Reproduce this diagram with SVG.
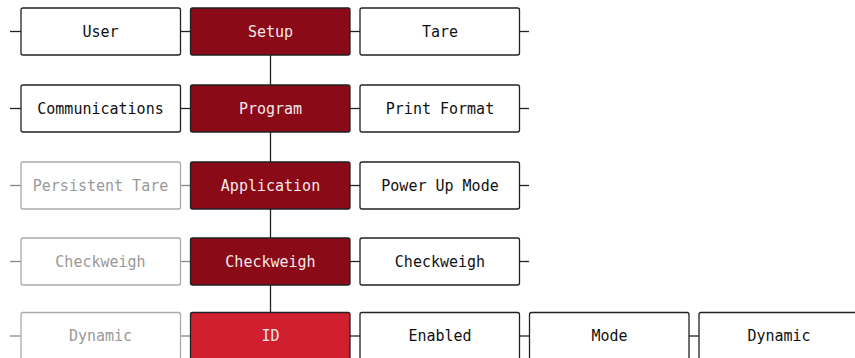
<svg xmlns="http://www.w3.org/2000/svg" width="855" height="358" viewBox="0 0 855 358">
<style>
rect{stroke-width:1.3;}
.n rect{fill:#fff;stroke:#222;}
.g rect{fill:#fff;stroke:#aaa;}
.s rect{fill:#8a0a17;stroke:#222;}
.a rect{fill:#d01f2e;stroke:#222;}
text{font-family:"DejaVu Sans Mono",monospace;font-size:15px;text-anchor:middle;dominant-baseline:central;}
.n text{fill:#111;}
.g text{fill:#999;}
.s text,.a text{fill:#f4e8e8;}
#connectors line{stroke:#222;stroke-width:1.3;}
#connectors line.gl{stroke:#888;}
</style>
<rect width="855" height="358" fill="#fff"/>
<g id="connectors">
<line x1="10" y1="31.5" x2="21" y2="31.5"/>
<line x1="180" y1="31.5" x2="191" y2="31.5"/>
<line x1="350" y1="31.5" x2="360" y2="31.5"/>
<line x1="519" y1="31.5" x2="529" y2="31.5"/>
<line x1="10" y1="108.5" x2="21" y2="108.5"/>
<line x1="180" y1="108.5" x2="191" y2="108.5"/>
<line x1="350" y1="108.5" x2="360" y2="108.5"/>
<line x1="519" y1="108.5" x2="529" y2="108.5"/>
<line class="gl" x1="10" y1="185.5" x2="21" y2="185.5"/>
<line class="gl" x1="180" y1="185.5" x2="191" y2="185.5"/>
<line x1="350" y1="185.5" x2="360" y2="185.5"/>
<line x1="519" y1="185.5" x2="529" y2="185.5"/>
<line class="gl" x1="10" y1="261.5" x2="21" y2="261.5"/>
<line class="gl" x1="180" y1="261.5" x2="191" y2="261.5"/>
<line x1="350" y1="261.5" x2="360" y2="261.5"/>
<line x1="519" y1="261.5" x2="529" y2="261.5"/>
<line class="gl" x1="10" y1="336" x2="21" y2="336"/>
<line class="gl" x1="180" y1="336" x2="191" y2="336"/>
<line x1="350" y1="336" x2="360" y2="336"/>
<line x1="519" y1="336" x2="529" y2="336"/>
<line x1="689" y1="336" x2="699" y2="336"/>
<line x1="270.5" y1="55" x2="270.5" y2="85"/>
<line x1="270.5" y1="132" x2="270.5" y2="162"/>
<line x1="270.5" y1="209" x2="270.5" y2="238"/>
<line x1="270.5" y1="285" x2="270.5" y2="312"/>
</g>
<g id="user" class="n"><rect x="21" y="8" width="159.5" height="47" rx="2"/><text x="100.5" y="31.5">User</text></g>
<g id="setup" class="s"><rect x="190.5" y="8" width="159.5" height="47" rx="2"/><text x="270.5" y="31.5">Setup</text></g>
<g id="tare" class="n"><rect x="360" y="8" width="159.5" height="47" rx="2"/><text x="440" y="31.5">Tare</text></g>
<g id="communications" class="n"><rect x="21" y="85" width="159.5" height="47" rx="2"/><text x="100.5" y="108.5">Communications</text></g>
<g id="program" class="s"><rect x="190.5" y="85" width="159.5" height="47" rx="2"/><text x="270.5" y="108.5">Program</text></g>
<g id="print-format" class="n"><rect x="360" y="85" width="159.5" height="47" rx="2"/><text x="440" y="108.5">Print Format</text></g>
<g id="persistent-tare" class="g"><rect x="21" y="162" width="159.5" height="47" rx="2"/><text x="100.5" y="185.5">Persistent Tare</text></g>
<g id="application" class="s"><rect x="190.5" y="162" width="159.5" height="47" rx="2"/><text x="270.5" y="185.5">Application</text></g>
<g id="power-up-mode" class="n"><rect x="360" y="162" width="159.5" height="47" rx="2"/><text x="440" y="185.5">Power Up Mode</text></g>
<g id="checkweigh-left" class="g"><rect x="21" y="238" width="159.5" height="47" rx="2"/><text x="100.5" y="261.5">Checkweigh</text></g>
<g id="checkweigh" class="s"><rect x="190.5" y="238" width="159.5" height="47" rx="2"/><text x="270.5" y="261.5">Checkweigh</text></g>
<g id="checkweigh-right" class="n"><rect x="360" y="238" width="159.5" height="47" rx="2"/><text x="440" y="261.5">Checkweigh</text></g>
<g id="dynamic-left" class="g"><rect x="21" y="312.5" width="159.5" height="47" rx="2"/><text x="100.5" y="336">Dynamic</text></g>
<g id="id" class="a"><rect x="190.5" y="312.5" width="159.5" height="47" rx="2"/><text x="270.5" y="336">ID</text></g>
<g id="enabled" class="n"><rect x="360" y="312.5" width="159.5" height="47" rx="2"/><text x="440" y="336">Enabled</text></g>
<g id="mode" class="n"><rect x="529.5" y="312.5" width="159.5" height="47" rx="2"/><text x="609.5" y="336">Mode</text></g>
<g id="dynamic" class="n"><rect x="699" y="312.5" width="159.5" height="47" rx="2"/><text x="779" y="336">Dynamic</text></g>
</svg>
